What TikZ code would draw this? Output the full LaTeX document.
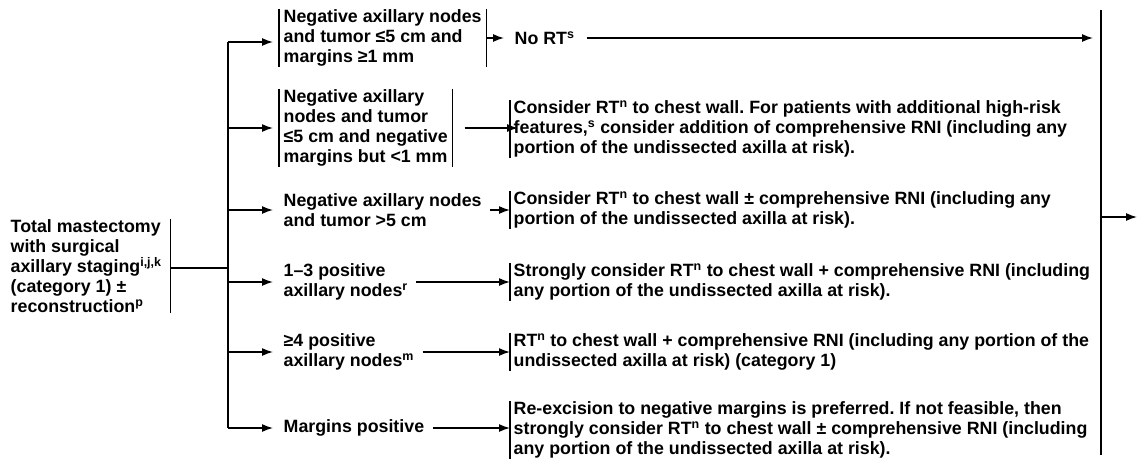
\documentclass[tikz,border=0pt]{standalone}
\usepackage{fontspec}
\setmainfont{Liberation Sans}
\usetikzlibrary{arrows.meta,positioning,calc}
\frenchspacing

\begin{document}
\begin{tikzpicture}[x=1pt,y=1pt,line width=1.4pt,-{Latex[length=11pt,width=8pt]}]
\tikzstyle{txt}=[anchor=west, align=left, inner xsep=4pt, inner ysep=0pt, font=\fontsize{17.8}{20}\selectfont\bfseries]
\tikzstyle{line}=[-]
\useasboundingbox (0,0) rectangle (1139,-459);
% start
\node[txt, inner xsep=0pt] (ts) at (10,-266) {Total mastectomy\\with surgical\\axillary staging\textsuperscript{i,j,k}\\(category 1) \textpm\\reconstruction\textsuperscript{p}};
\draw[line] ([xshift=8pt]ts.north east) -- ([xshift=8pt]ts.south east);
\coordinate (j) at (228,-268);
\draw[line] ([xshift=8pt]ts.east |- j) -- (j);
% conditions
\node[txt] (c1) at (279,-38) {Negative axillary nodes\\and tumor ≤5 cm and\\margins ≥1 mm};
\node[txt] (c2) at (279,-128) {Negative axillary\\nodes and tumor\\≤5 cm and negative\\margins but <1 mm};
\node[txt] (c3) at (279,-210) {Negative axillary nodes\\and tumor >5 cm};
\node[txt] (c4) at (279,-282) {1–3 positive\\axillary nodes\textsuperscript{r}};
\node[txt] (c5) at (279,-352) {≥4 positive\\axillary nodes\textsuperscript{m}};
\node[txt] (c6) at (279,-428) {Margins positive};
\foreach \i in {1,2}
    \draw[line] (c\i.north west) -- (c\i.south west) (c\i.north east) -- (c\i.south east);
\draw[line] ([yshift=-4pt]j |- c1.west) -- (j |- c6.west);
\draw ([yshift=-4pt]j |- c1.west) -- ([xshift=-6pt,yshift=-4pt]c1.west);
\foreach \i in {2,...,6}
    \draw (j |- c\i.west) -- ([xshift=-6pt]c\i.west);
% treatments
\node[txt] (r1) at (510,-38) {No RT\textsuperscript{s}};
\node[txt, inner xsep=3pt] (r2) at (510,-129) {Consider RT\textsuperscript{n} to chest wall. For patients with additional high-risk\\features,\textsuperscript{s} consider addition of comprehensive RNI (including any\\portion of the undissected axilla at risk).};
\node[txt, inner xsep=3pt] (r3) at (510,-210) {Consider RT\textsuperscript{n} to chest wall \textpm{} comprehensive RNI (including any\\portion of the undissected axilla at risk).};
\node[txt, inner xsep=3pt] (r4) at (510,-282) {Strongly consider RT\textsuperscript{n} to chest wall + comprehensive RNI (including\\any portion of the undissected axilla at risk).};
\node[txt, inner xsep=3pt] (r5) at (510,-352) {RT\textsuperscript{n} to chest wall + comprehensive RNI (including any portion of the\\undissected axilla at risk) (category 1)};
\node[txt, inner xsep=3pt] (r6) at (510,-430) {Re-excision to negative margins is preferred. If not feasible, then\\strongly consider RT\textsuperscript{n} to chest wall \textpm{} comprehensive RNI (including\\any portion of the undissected axilla at risk).};
\foreach \i in {2,...,6}
    \draw[line] (r\i.north west) -- (r\i.south west);
\draw[shorten >=6pt] (c1.east) -- (r1.west);
\draw[shorten >=4pt] ([xshift=12pt]c2.east) -- ([xshift=12pt]c2.east -| r2.west);
\foreach \i in {3,...,6}
    \draw[shorten >=4pt] ([xshift=4pt]c\i.east) -- ([xshift=4pt]c\i.east -| r\i.west);
% merge
\coordinate (rt) at (1101,-10);
\coordinate (rb) at (1101,-455);
\coordinate (out) at (1137,-217);
\draw[line] (rt) -- (rb);
\draw[shorten >=8pt] ([xshift=8pt]r1.east) -- (rt |- r1.east);
\draw (rt |- out) -- (out);
\end{tikzpicture}
\end{document}
